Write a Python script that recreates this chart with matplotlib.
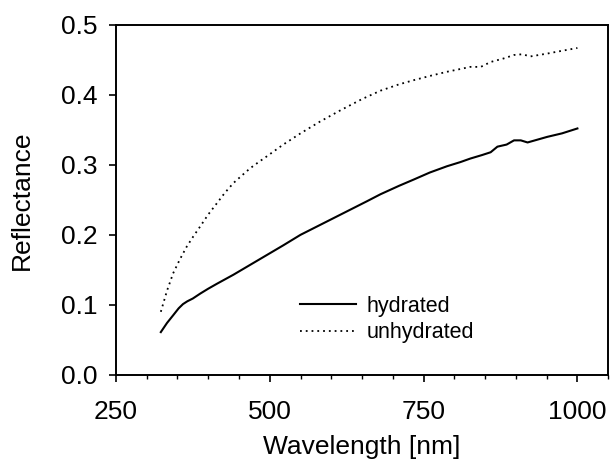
import matplotlib
matplotlib.use("Agg")
import matplotlib.pyplot as plt
from matplotlib.ticker import MultipleLocator

plt.rcParams['font.family'] = ['Liberation Sans', 'DejaVu Sans']

hyd_wl = [323, 333, 343, 352, 359, 366, 375, 387, 400, 414, 441, 468, 495, 522, 550, 577, 604, 631, 658, 680, 710, 734, 760, 788, 810, 826, 845, 859, 870, 885, 897, 908, 919, 935, 951, 975, 1000]
hyd_r = [0.061, 0.074, 0.085, 0.095, 0.101, 0.105, 0.109, 0.116, 0.123, 0.130, 0.143, 0.157, 0.171, 0.185, 0.200, 0.212, 0.224, 0.236, 0.248, 0.258, 0.270, 0.279, 0.289, 0.298, 0.304, 0.309, 0.314, 0.318, 0.326, 0.329, 0.335, 0.335, 0.332, 0.336, 0.340, 0.345, 0.352]

unh_wl = [323, 333, 343, 354, 365, 376, 387, 400, 414, 427, 441, 455, 468, 482, 495, 522, 550, 582, 615, 650, 680, 710, 734, 760, 788, 810, 826, 843, 859, 880, 897, 910, 924, 951, 975, 1000]
unh_r = [0.090, 0.120, 0.145, 0.165, 0.183, 0.198, 0.212, 0.229, 0.245, 0.260, 0.274, 0.285, 0.295, 0.304, 0.312, 0.329, 0.345, 0.362, 0.378, 0.394, 0.406, 0.415, 0.421, 0.427, 0.433, 0.437, 0.440, 0.440, 0.447, 0.452, 0.457, 0.458, 0.455, 0.459, 0.463, 0.467]

xticks = [250, 500, 750, 1000]
yticks = [0.0, 0.1, 0.2, 0.3, 0.4, 0.5]

fig = plt.figure(figsize=(6.10, 4.61), dpi=100)
ax = fig.add_axes([0.190, 0.187, 0.807, 0.759])

ax.plot(hyd_wl, hyd_r, color='black', lw=1.5, label='hydrated')
ax.plot(unh_wl, unh_r, color='black', lw=1.3, linestyle=(0, (1, 2.2)), label='unhydrated')

ax.set_xlim(250, 1050)
ax.set_ylim(0.0, 0.5)
ax.set_xticks(xticks)
ax.set_xticklabels([str(t) for t in xticks])
ax.set_yticks(yticks)
ax.set_yticklabels([f"{t:.1f}" for t in yticks])
ax.xaxis.set_minor_locator(MultipleLocator(50))

ax.tick_params(axis='both', which='major', direction='out', length=5, width=1.2, labelsize=19)
ax.tick_params(axis='x', which='minor', direction='out', length=3, width=1)
ax.tick_params(axis='x', which='major', pad=13)
ax.tick_params(axis='y', which='major', pad=8)
for s in ax.spines.values():
    s.set_linewidth(1.4)

ax.set_xlabel('Wavelength [nm]', fontsize=19, labelpad=8)
ax.set_ylabel('Reflectance', fontsize=19, labelpad=20)

ax.legend(loc='lower left', bbox_to_anchor=(0.335, 0.035), frameon=False, fontsize=15.5,
          handlelength=2.6, handletextpad=0.5, labelspacing=0.25)

fig.savefig('out.png', dpi=100)
